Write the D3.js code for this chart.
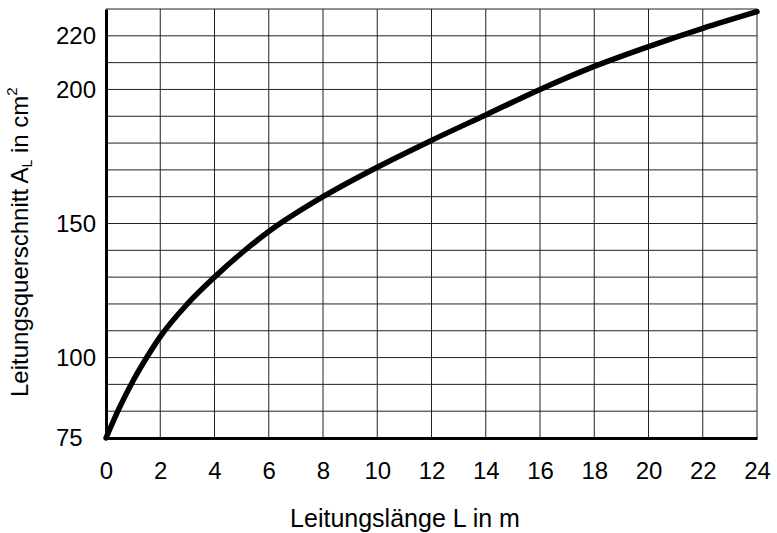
<!DOCTYPE html>
<html>
<head>
<meta charset="utf-8">
<script src="https://cdn.jsdelivr.net/npm/d3@7"></script>
<style>
  body { margin: 0; background: #fff; }
  svg text { font-family: "Liberation Sans", Arial, sans-serif; fill: #000; }
</style>
</head>
<body>
<svg class="chart" width="777" height="533"></svg>
<script>
// values
const lengthL = [0, 0.5, 1, 1.5, 2, 3, 4, 5, 6, 8, 10, 12, 14, 16, 18, 20, 22, 24];
const areaA   = [75, 84.5, 92.8, 100, 107.8, 120, 130, 139, 147, 160, 171, 181, 190.5, 200, 208.6, 216, 222.8, 229];

const xTicks = [0, 2, 4, 6, 8, 10, 12, 14, 16, 18, 20, 22, 24];
const yTicks = [75, 100, 150, 200, 220];
// horizontal grid lines (bottom part below 100 is squeezed into 3 rows)
const yGrid = [83.33, 91.67, 100, 110, 120, 130, 140, 150, 160, 170, 180, 190, 200, 210, 220, 230];

let svg = d3.select("svg.chart"),
    margin = {top: 9, bottom: 95, left: 106, right: 20},
    width = svg.attr("width") - margin.left - margin.right,
    height = svg.attr("height") - margin.top - margin.bottom;

let g = svg.append("g")
    .attr("transform", "translate(" + margin.left + "," + margin.top + ")");

let xScale = d3.scaleLinear()
    .domain([0, 24])
    .range([0, width]);
// piecewise: 75..100 takes 3 grid rows, 100..230 takes 13
let yScale = d3.scaleLinear()
    .domain([75, 100, 230])
    .range([height, height * 13 / 16, 0]);

// grid
g.append("g")
    .selectAll("line")
    .data(xTicks.slice(1))
    .join("line")
    .attr("x1", d => xScale(d))
    .attr("x2", d => xScale(d))
    .attr("y1", 0)
    .attr("y2", height)
    .attr("stroke", "#222")
    .attr("stroke-width", 1);

g.append("g")
    .selectAll("line")
    .data(yGrid)
    .join("line")
    .attr("x1", 0)
    .attr("x2", width)
    .attr("y1", d => yScale(d))
    .attr("y2", d => yScale(d))
    .attr("stroke", "#222")
    .attr("stroke-width", 1);

// axes
let xAxis = g.append("g")
    .attr("transform", "translate(0," + height + ")")
    .call(d3.axisBottom(xScale).tickValues(xTicks).tickSize(0).tickPadding(24));
xAxis.select(".domain").attr("stroke", "#000").attr("stroke-width", 3);
xAxis.selectAll("text")
    .attr("font-size", "24px")
    .attr("font-family", null);

let yAxis = g.append("g")
    .call(d3.axisLeft(yScale).tickValues(yTicks).tickSize(0));
yAxis.select(".domain").attr("stroke", "#000").attr("stroke-width", 3);
yAxis.selectAll("text")
    .attr("font-size", "24px")
    .attr("font-family", null)
    .attr("text-anchor", "start")
    .attr("x", -50);

// curve
let points = lengthL.map((d, i) => [d, areaA[i]]);
g.append("path")
    .datum(points)
    .attr("fill", "none")
    .attr("stroke", "#000")
    .attr("stroke-width", 5.5)
    .attr("stroke-linecap", "round")
    .attr("d", d3.line()
        .curve(d3.curveMonotoneX)
        .x(d => xScale(d[0]))
        .y(d => yScale(d[1])));

// x-axis label
svg.append("text")
    .attr("x", 405)
    .attr("y", 527)
    .attr("text-anchor", "middle")
    .attr("font-size", "25px")
    .text("Leitungslänge L in m");

// y-axis label
let yLabel = svg.append("text")
    .attr("transform", "translate(28,397) rotate(-90)")
    .attr("text-anchor", "start")
    .attr("font-size", "24px");
yLabel.append("tspan").text("Leitungsquerschnitt A");
yLabel.append("tspan").attr("font-size", "14px").attr("baseline-shift", "-4").text("L");
yLabel.append("tspan").text(" in cm");
yLabel.append("tspan").attr("font-size", "15px").attr("baseline-shift", "11").text("2");
</script>
</body>
</html>
